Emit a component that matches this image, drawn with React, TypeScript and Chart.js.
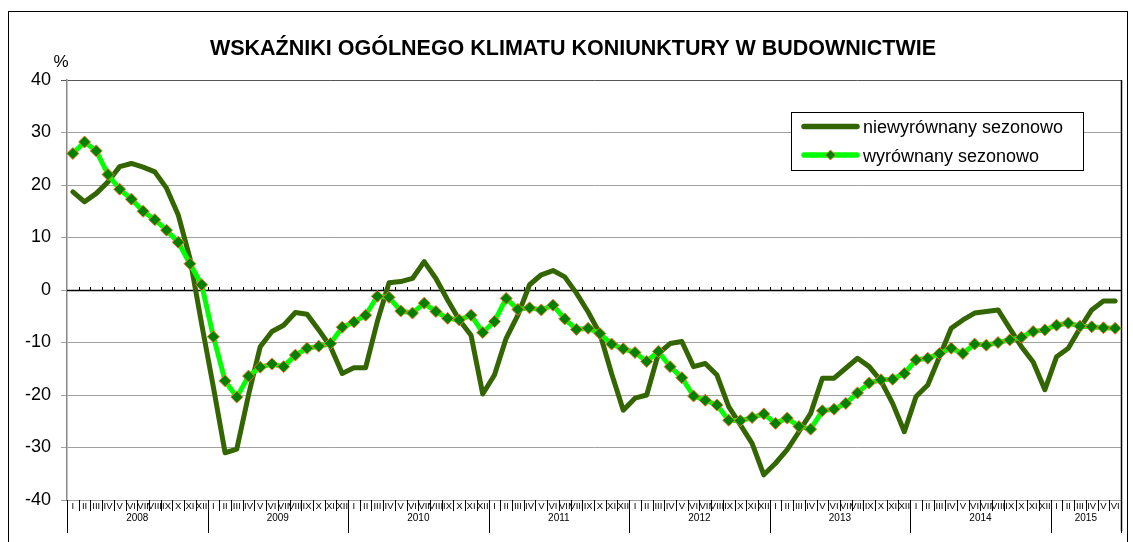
import React, { useEffect, useRef } from "react";
import { Chart, registerables } from "chart.js";

Chart.register(...registerables);

const TITLE = "WSKAŹNIKI OGÓLNEGO KLIMATU KONIUNKTURY W BUDOWNICTWIE";
const UNIT = "%";
const SERIES_NAMES = ["niewyrównany sezonowo", "wyrównany sezonowo"];
const YEARS = ["2008", "2009", "2010", "2011", "2012", "2013", "2014", "2015"];
const MONTHS_PER_YEAR = [12, 12, 12, 12, 12, 12, 12, 6];
const ROMAN = ["I", "II", "III", "IV", "V", "VI", "VII", "VIII", "IX", "X", "XI", "XII"];
const Y_MIN = -40;
const Y_MAX = 40;
const Y_STEP = 10;

// niewyrównany sezonowo (seasonally unadjusted)
const UNADJUSTED = [
  18.7, 16.8, 18.4, 20.6, 23.5, 24.1, 23.4, 22.5, 19.4, 14.3, 6.0, -6.5,
  -18.5, -31.0, -30.3, -20.0, -10.8, -7.9, -6.7, -4.3, -4.6, -7.6, -10.8, -15.9,
  -14.8, -14.8, -6.0, 1.4, 1.6, 2.2, 5.4, 2.2, -1.9, -5.7, -8.6, -19.8,
  -16.2, -9.2, -4.8, 1.0, 2.9, 3.7, 2.5, -0.6, -4.2, -8.3, -15.9, -22.9,
  -20.6, -20.0, -12.1, -10.2, -9.8, -14.6, -14.0, -16.2, -22.2, -25.7, -29.2, -35.2,
  -33.0, -30.4, -27.0, -23.5, -16.8, -16.8, -14.9, -13.0, -14.6, -17.3, -21.6, -27.0,
  -20.3, -18.1, -12.7, -7.3, -5.7, -4.4, -4.1, -3.8, -7.3, -10.8, -13.7, -19.0,
  -12.7, -11.1, -7.3, -3.8, -2.1, -2.1,
];

// wyrównany sezonowo (seasonally adjusted)
const ADJUSTED = [
  26.0, 28.2, 26.5, 22.0, 19.2, 17.3, 15.0, 13.4, 11.4, 9.1, 5.0, 1.0,
  -8.9, -17.3, -20.4, -16.4, -14.7, -14.1, -14.6, -12.4, -11.1, -10.7, -10.2, -7.1,
  -6.1, -4.8, -1.2, -1.4, -4.0, -4.4, -2.5, -4.1, -5.4, -5.7, -4.8, -8.1,
  -6.0, -1.6, -3.7, -3.4, -3.8, -2.9, -5.5, -7.5, -7.3, -8.3, -10.3, -11.2,
  -11.9, -13.6, -11.7, -14.6, -16.7, -20.2, -21.0, -21.9, -24.8, -24.9, -24.3, -23.6,
  -25.4, -24.4, -26.0, -26.5, -23.0, -22.7, -21.6, -19.6, -17.7, -17.1, -17.0, -15.9,
  -13.3, -13.0, -12.1, -11.1, -12.1, -10.3, -10.5, -10.0, -9.5, -9.0, -7.9, -7.6,
  -6.7, -6.3, -6.9, -7.0, -7.2, -7.3,
];

const LABELS: string[] = [];
const MONTH_LABELS: string[] = [];
YEARS.forEach((yr, yi) => {
  for (let m = 0; m < MONTHS_PER_YEAR[yi]; m++) {
    LABELS.push(yr + " " + ROMAN[m]);
    MONTH_LABELS.push(ROMAN[m]);
  }
});

const FONT = '"Liberation Sans", Arial, sans-serif';
const DARK = "#336600";
const LIME = "#00FF00";
const MARKER_FILL = "#008000";
const MARKER_EDGE = "#F07822";

function diamond(ctx: CanvasRenderingContext2D, cx: number, cy: number, r: number) {
  ctx.beginPath();
  ctx.moveTo(cx, cy - r);
  ctx.lineTo(cx + r, cy);
  ctx.lineTo(cx, cy + r);
  ctx.lineTo(cx - r, cy);
  ctx.closePath();
  ctx.fillStyle = MARKER_FILL;
  ctx.fill();
  ctx.strokeStyle = MARKER_EDGE;
  ctx.lineWidth = 1;
  ctx.stroke();
}

const decorPlugin = {
  id: "decor",
  beforeDatasetsDraw(chart: any) {
    const ctx: CanvasRenderingContext2D = chart.ctx;
    const xs = chart.scales.x;
    const ys = chart.scales.y;
    const ca = chart.chartArea;
    const n = LABELS.length;
    const step = xs.getPixelForValue(1) - xs.getPixelForValue(0);
    const boundary = (i: number) => xs.getPixelForValue(i) - step / 2;
    ctx.save();

    // zero axis line with small ticks
    const y0 = Math.round(ys.getPixelForValue(0)) + 0.5;
    ctx.strokeStyle = "#000";
    ctx.lineWidth = 1.5;
    ctx.beginPath();
    ctx.moveTo(ca.left, y0);
    ctx.lineTo(ca.right, y0);
    ctx.stroke();
    ctx.lineWidth = 1;
    ctx.beginPath();
    for (let i = 1; i < n; i++) {
      const bx = Math.round(boundary(i)) + 0.5;
      ctx.moveTo(bx, y0);
      ctx.lineTo(bx, y0 - 3.5);
    }
    ctx.stroke();

    // bottom category band
    const yearStarts = new Set<number>();
    let acc = 0;
    MONTHS_PER_YEAR.forEach((m) => {
      yearStarts.add(acc);
      acc += m;
    });
    yearStarts.add(acc);
    ctx.strokeStyle = "#000";
    ctx.lineWidth = 1;
    ctx.beginPath();
    for (let i = 0; i <= n; i++) {
      const bx = Math.round(boundary(i)) + 0.5;
      const len = yearStarts.has(i) ? 33 : 11;
      ctx.moveTo(bx, ca.bottom);
      ctx.lineTo(bx, ca.bottom + len);
    }
    ctx.stroke();

    ctx.fillStyle = "#000";
    ctx.textAlign = "center";
    ctx.textBaseline = "alphabetic";
    ctx.font = "9.5px " + FONT;
    for (let i = 0; i < n; i++) {
      ctx.fillText(MONTH_LABELS[i], xs.getPixelForValue(i), ca.bottom + 8.8);
    }
    ctx.font = "10px " + FONT;
    let start = 0;
    YEARS.forEach((yr, yi) => {
      const end = start + MONTHS_PER_YEAR[yi];
      const cx = (boundary(start) + boundary(end)) / 2;
      ctx.fillText(yr, cx, ca.bottom + 20.8);
      start = end;
    });

    // right border of plot area
    ctx.strokeStyle = "#000";
    ctx.lineWidth = 1.5;
    ctx.beginPath();
    ctx.moveTo(ca.right + 0.5, ca.top);
    ctx.lineTo(ca.right + 0.5, ca.bottom + 31);
    ctx.stroke();
    ctx.restore();
  },
  afterDatasetsDraw(chart: any) {
    const ctx: CanvasRenderingContext2D = chart.ctx;
    ctx.save();
    // legend
    ctx.fillStyle = "#fff";
    ctx.fillRect(791, 112, 292, 58);
    ctx.strokeStyle = "#000";
    ctx.lineWidth = 1;
    ctx.strokeRect(791.5, 112.5, 292, 58);
    ctx.lineCap = "round";
    ctx.lineWidth = 5.5;
    ctx.strokeStyle = DARK;
    ctx.beginPath();
    ctx.moveTo(804, 126.5);
    ctx.lineTo(857, 126.5);
    ctx.stroke();
    ctx.strokeStyle = LIME;
    ctx.beginPath();
    ctx.moveTo(804, 155);
    ctx.lineTo(857, 155);
    ctx.stroke();
    ctx.lineCap = "butt";
    diamond(ctx, 830.5, 155, 5);
    ctx.fillStyle = "#000";
    ctx.font = "18px " + FONT;
    ctx.textAlign = "left";
    ctx.textBaseline = "alphabetic";
    ctx.fillText(SERIES_NAMES[0], 863, 133);
    ctx.fillText(SERIES_NAMES[1], 863, 161.5);
    ctx.restore();
  },
  afterDraw(chart: any) {
    const ctx: CanvasRenderingContext2D = chart.ctx;
    ctx.save();
    ctx.fillStyle = "#000";
    ctx.textAlign = "center";
    ctx.textBaseline = "alphabetic";
    ctx.font = "bold 21.5px " + FONT;
    ctx.fillText(TITLE, 573, 55);
    ctx.font = "17px " + FONT;
    ctx.fillText(UNIT, 61, 67);
    // outer frame
    ctx.strokeStyle = "#000";
    ctx.lineWidth = 1;
    ctx.strokeRect(8.5, 11.5, 1119, 560);
    ctx.restore();
  },
};

export default function App() {
  const ref = useRef<HTMLCanvasElement | null>(null);
  useEffect(() => {
    if (!ref.current) return;
    const chart = new Chart(ref.current, {
      type: "line",
      data: {
        labels: LABELS,
        datasets: [
          {
            label: SERIES_NAMES[1],
            data: ADJUSTED,
            borderColor: LIME,
            borderWidth: 5,
            pointStyle: "rectRot",
            pointRadius: 6,
            pointBackgroundColor: MARKER_FILL,
            pointBorderColor: MARKER_EDGE,
            pointBorderWidth: 1,
            tension: 0,
            order: 0,
          },
          {
            label: SERIES_NAMES[0],
            data: UNADJUSTED,
            borderColor: DARK,
            borderWidth: 5,
            borderJoinStyle: "round",
            borderCapStyle: "round",
            pointRadius: 0,
            tension: 0,
            order: 1,
          },
        ],
      },
      options: {
        responsive: false,
        animation: false,
        devicePixelRatio: 1,
        layout: { padding: { left: 0, top: 80, right: 12, bottom: 42 } },
        plugins: {
          legend: { display: false },
          title: { display: false },
          tooltip: { enabled: false },
        },
        scales: {
          x: {
            type: "category",
            offset: true,
            display: false,
          },
          y: {
            min: Y_MIN,
            max: Y_MAX,
            afterFit: (s: any) => {
              s.width = 67;
            },
            ticks: {
              stepSize: Y_STEP,
              color: "#000",
              font: { family: FONT, size: 18 },
              padding: 10,
            },
            grid: {
              color: (c: any) =>
                c.tick && (c.tick.value === Y_MAX) ? "#555" : "#a0a0a0",
              lineWidth: 1,
              drawTicks: true,
              tickLength: 6,
            },
            border: { color: "#888", width: 1.5 },
          },
        },
      },
      plugins: [decorPlugin],
    } as any);
    return () => chart.destroy();
  }, []);
  return (
    <canvas
      ref={ref}
      width={1133}
      height={542}
      style={{ position: "absolute", left: 0, top: 0, width: 1133, height: 542, background: "#fff" }}
    />
  );
}
